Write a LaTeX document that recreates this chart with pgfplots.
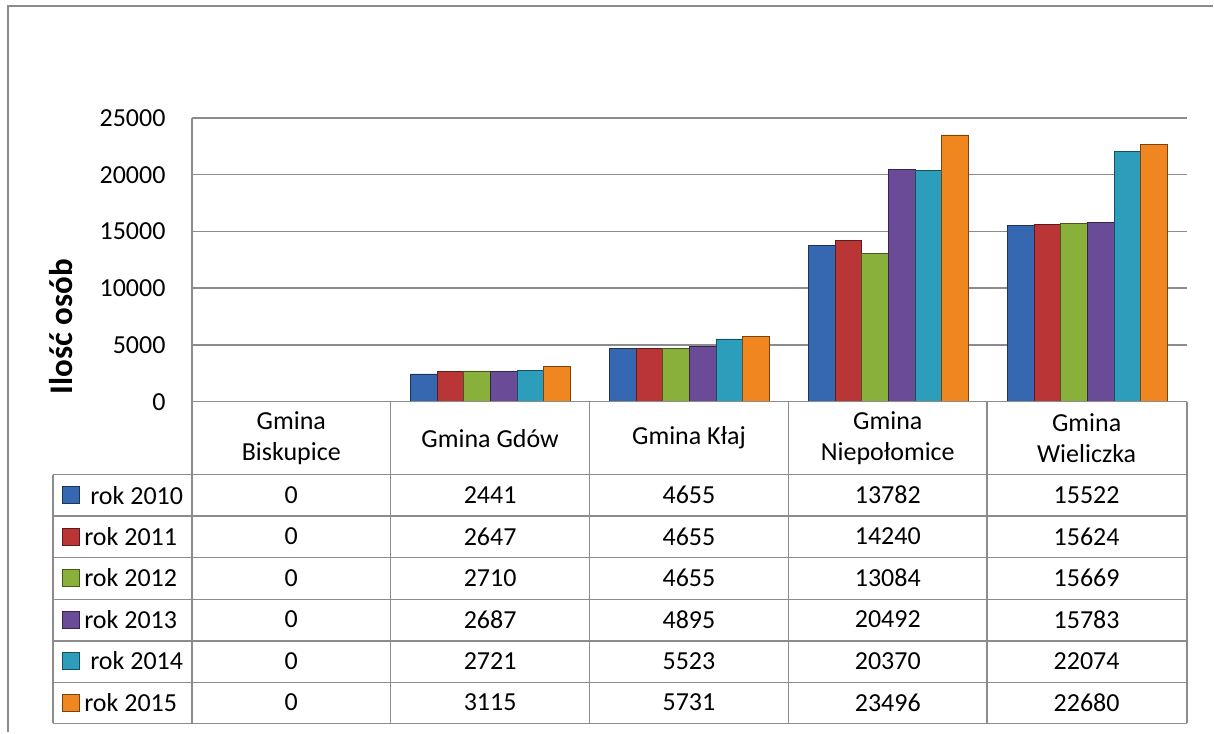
\documentclass[border=0pt]{standalone}
\usepackage{fontspec}
\setmainfont{Carlito}
\usepackage{pgfplots}
\usepackage{pgfplotstable}
\pgfplotsset{compat=1.18}

\definecolor{cA}{HTML}{3568B0}
\definecolor{cB}{HTML}{BA3536}
\definecolor{cC}{HTML}{8AB03C}
\definecolor{cD}{HTML}{6A4B97}
\definecolor{cE}{HTML}{2C9DBB}
\definecolor{cF}{HTML}{F0861F}
\definecolor{frame}{HTML}{8C8C8C}

% gminy: Biskupice, Gdow, Klaj, Niepolomice, Wieliczka
\pgfplotstableread{
x  r2010  r2011  r2012  r2013  r2014  r2015
0  0      0      0      0      0      0
1  2441   2647   2710   2687   2721   3115
2  4655   4655   4655   4895   5523   5731
3  13782  14240  13084  20492  20370  23496
4  15522  15624  15669  15783  22074  22680
}\dane

\tikzset{
  bevel/.style={fill=#1, draw=#1!50!black, line width=0.4pt}
}

\begin{document}
\begin{tikzpicture}
\begin{scope}[x=0.5pt,y=-0.5pt]
  \path (0,0) rectangle (1214,733);
  \draw[frame, line width=1pt] (8,733) -- (8,6) -- (1214,6);
\end{scope}

\begin{axis}[
    at={(96pt,-201pt)}, anchor=south west,
    scale only axis,
    width=498pt, height=142pt,
    xmin=-0.5, xmax=4.5,
    ymin=0, ymax=25000,
    xtick=\empty,
    ytick={0,5000,...,25000},
    scaled y ticks=false,
    axis lines=left,
    axis line style={-, draw=frame, line width=0.75pt},
    major tick length=0pt,
    ymajorgrids,
    grid style={draw=frame, line width=0.75pt},
    /pgf/number format/1000 sep={},
    /pgf/number format/assume math mode=true,
    yticklabel style={font=\fontsize{13}{15}\selectfont, inner sep=0pt, xshift=-13pt},
    ybar=0pt,
    bar width=13.33pt,
]
\addplot[bevel=cA] table[x=x,y=r2010] {\dane};
\addplot[bevel=cB] table[x=x,y=r2011] {\dane};
\addplot[bevel=cC] table[x=x,y=r2012] {\dane};
\addplot[bevel=cD] table[x=x,y=r2013] {\dane};
\addplot[bevel=cE] table[x=x,y=r2014] {\dane};
\addplot[bevel=cF] table[x=x,y=r2015] {\dane};
\end{axis}

\begin{scope}[x=0.5pt,y=-0.5pt, every node/.style={font=\fontsize{13}{16}\selectfont, inner sep=0pt}]
  % y label
  \node[rotate=90, font=\fontsize{16.5}{18}\selectfont\bfseries] at (61,327) {Ilość osób};
  % data table grid
  \draw[frame, line width=0.75pt] (192,402) -- (1188,402);
  \foreach \yy in {475,516.5,558,600,641.5,683,724}
    \draw[frame, line width=0.75pt] (53,\yy) -- (1188,\yy);
  \draw[frame, line width=0.75pt] (53,475) -- (53,724);
  \foreach \xx in {192,391,590,789,988,1188}
    \draw[frame, line width=0.75pt] (\xx,402) -- (\xx,724);
  % header
  \node[align=center] at (291.5,438.5) {Gmina\\Biskupice};
  \node[align=center] at (490.5,438.5) {Gmina Gdów};
  \node[align=center] at (689.5,438.5) {Gmina Kłaj};
  \node[align=center] at (888.5,438.5) {Gmina\\Niepołomice};
  \node[align=center] at (1087.5,438.5) {Gmina\\Wieliczka};
  % rows
  \foreach \c/\lab/\tx/\va/\vb/\vc/\vd/\ve [count=\i] in {
      cA/rok 2010/90/0/2441/4655/13782/15522,
      cB/rok 2011/84/0/2647/4655/14240/15624,
      cC/rok 2012/84/0/2710/4655/13084/15669,
      cD/rok 2013/84/0/2687/4895/20492/15783,
      cE/rok 2014/90/0/2721/5523/20370/22074,
      cF/rok 2015/84/0/3115/5731/23496/22680} {
    \pgfmathsetmacro{\yc}{495.5+41.5*(\i-1)}
    \path[bevel=\c] (62,\yc-8.5) rectangle (79,\yc+8.5);
    \node[anchor=west] at (\tx,\yc) {\lab};
    \node at (291.5,\yc) {\va};
    \node at (490.5,\yc) {\vb};
    \node at (689.5,\yc) {\vc};
    \node at (888.5,\yc) {\vd};
    \node at (1087.5,\yc) {\ve};
  }
\end{scope}
\end{tikzpicture}
\end{document}
